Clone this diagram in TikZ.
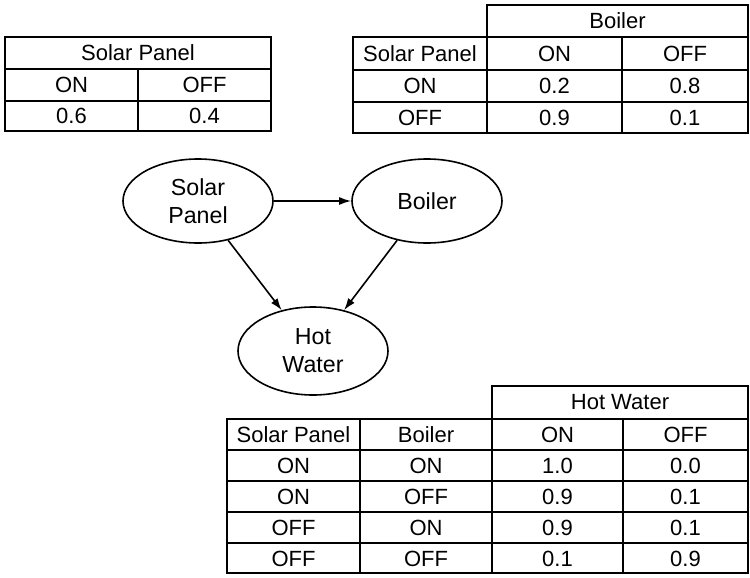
\documentclass[tikz,border=0pt]{standalone}
\usepackage{fontspec}
\setmainfont{Liberation Sans}
\usetikzlibrary{shapes.geometric,arrows.meta}

\begin{document}
\begin{tikzpicture}[x=0.5pt,y=-0.5pt,
   cell/.style={font=\fontsize{11}{13}\selectfont,inner sep=0pt},
   grid/.style={line width=0.9pt},
   var/.style={draw,ellipse,line width=0.8pt,minimum width=75pt,minimum height=42pt,
     inner sep=1pt,align=center,font=\fontsize{11.6}{14}\selectfont},
   link/.style={-{Latex[length=6pt,width=4pt]},line width=0.8pt}]
   \useasboundingbox (0,0) rectangle (750,578);

   % P(solar panel)
   \draw[grid] (5,37) rectangle (271,131);
   \draw[grid] (5,69) -- (271,69) (5,101) -- (271,101) (138,69) -- (138,131);
   \node[cell] (sp-head) at (138,53) {Solar Panel};
   \node[cell] (sp-on) at (71.5,85) {ON};
   \node[cell] (sp-off) at (204.5,85) {OFF};
   \node[cell] (sp-pon) at (71.5,116) {0.6};
   \node[cell] (sp-poff) at (204.5,116) {0.4};

   % P(boiler | solar panel)
   \draw[grid] (487,5) rectangle (748,37);
   \draw[grid] (353,37) rectangle (748,133);
   \draw[grid] (353,70) -- (748,70) (353,102) -- (748,102)
               (487,37) -- (487,133) (622,37) -- (622,133);
   \node[cell] (bo-head) at (617.5,21) {Boiler};
   \node[cell] (bo-sp) at (420,53.5) {Solar Panel};
   \node[cell] (bo-on) at (554.5,53.5) {ON};
   \node[cell] (bo-off) at (685,53.5) {OFF};
   \foreach \s/\on/\off [count=\i] in {ON/0.2/0.8, OFF/0.9/0.1} {
     \pgfmathsetmacro\y{53.5+32*\i}
     \node[cell] (bo-\i-s) at (420,\y) {\s};
     \node[cell] (bo-\i-on) at (554.5,\y) {\on};
     \node[cell] (bo-\i-off) at (685,\y) {\off};
   }

   % the network
   \node[var] (solar) at (198,201) {Solar\\Panel};
   \node[var] (boiler) at (427,201) {Boiler};
   \node[var,minimum height=44pt] (hot) at (313,351) {Hot\\Water};
   \draw[link] (solar) -- (boiler);
   \draw[link] (solar) -- (hot);
   \draw[link] (boiler) -- (hot);

   % P(hot water | solar panel, boiler)
   \draw[grid] (492,386) rectangle (748,419);
   \draw[grid] (227,419) rectangle (748,573);
   \foreach \y in {450,481,512,543}
     \draw[grid] (227,\y) -- (748,\y);
   \foreach \x in {360,492,623}
     \draw[grid] (\x,419) -- (\x,573);
   \node[cell] (hw-head) at (620,402.5) {Hot Water};
   \node[cell] (hw-sp) at (293.5,434.5) {Solar Panel};
   \node[cell] (hw-bo) at (426,434.5) {Boiler};
   \node[cell] (hw-on) at (557.5,434.5) {ON};
   \node[cell] (hw-off) at (685.5,434.5) {OFF};
   \foreach \s/\b/\on/\off [count=\i] in {ON/ON/1.0/0.0, ON/OFF/0.9/0.1,
                                          OFF/ON/0.9/0.1, OFF/OFF/0.1/0.9} {
     \pgfmathsetmacro\y{434.5+31*\i}
     \node[cell] (hw-\i-s) at (293.5,\y) {\s};
     \node[cell] (hw-\i-b) at (426,\y) {\b};
     \node[cell] (hw-\i-on) at (557.5,\y) {\on};
     \node[cell] (hw-\i-off) at (685.5,\y) {\off};
   }
\end{tikzpicture}
\end{document}
